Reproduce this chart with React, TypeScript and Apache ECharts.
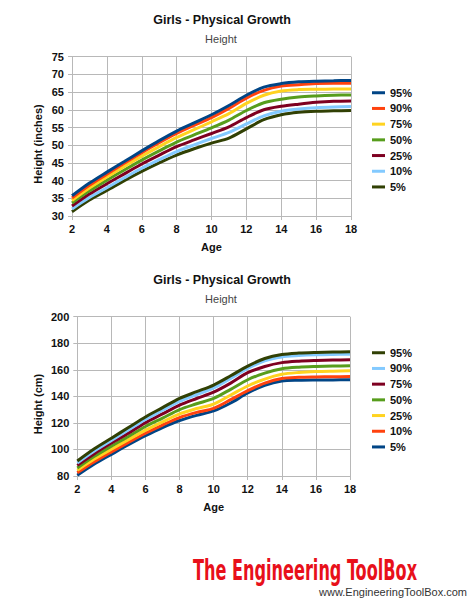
import React, { useEffect, useRef } from "react";
import * as echarts from "echarts";

const AGES = [2, 3, 4, 5, 6, 7, 8, 9, 10, 11, 12, 13, 14, 15, 16, 17, 18];
const PERCENTILES = ["95%", "90%", "75%", "50%", "25%", "10%", "5%"];

// Top chart: height in inches
const IN_95 = [35.7, 39.3, 42.4, 45.4, 48.4, 51.3, 54.0, 56.3, 58.6, 61.2, 64.1, 66.4, 67.4, 67.9, 68.1, 68.2, 68.3];
const IN_90 = [35.1, 38.7, 41.8, 44.9, 47.9, 50.7, 53.3, 55.6, 57.8, 60.4, 63.3, 65.5, 66.7, 67.1, 67.4, 67.5, 67.5];
const IN_75 = [34.4, 37.9, 41.0, 44.0, 46.9, 49.6, 52.2, 54.4, 56.6, 58.9, 61.8, 64.1, 65.3, 65.7, 65.8, 65.9, 65.9];
const IN_50 = [33.7, 37.1, 40.1, 43.0, 45.8, 48.4, 50.9, 52.9, 54.9, 57.1, 59.8, 62.0, 63.0, 63.6, 63.9, 64.1, 64.2];
const IN_25 = [32.8, 36.2, 39.1, 41.9, 44.7, 47.2, 49.6, 51.5, 53.3, 55.2, 57.8, 60.0, 61.0, 61.6, 62.1, 62.4, 62.5];
const IN_10 = [32.0, 35.2, 38.0, 40.8, 43.5, 45.9, 48.2, 50.1, 51.9, 53.6, 56.0, 58.3, 59.6, 60.2, 60.6, 60.8, 60.9];
const IN_05 = [31.2, 34.5, 37.2, 40.0, 42.6, 45.0, 47.2, 49.0, 50.6, 52.0, 54.6, 57.2, 58.6, 59.3, 59.6, 59.7, 59.8];

// Bottom chart: height in cm
const CM_95 = [91.3, 100.5, 108.5, 116.5, 124.5, 131.5, 138.5, 143.5, 148.5, 155.5, 162.8, 168.5, 171.5, 172.6, 173.1, 173.4, 173.6];
const CM_90 = [89.8, 98.8, 106.8, 114.6, 122.6, 129.5, 136.2, 141.3, 146.3, 153.5, 161.0, 166.8, 169.7, 170.7, 171.3, 171.6, 171.8];
const CM_75 = [88.0, 96.8, 104.8, 112.3, 120.2, 126.8, 133.4, 138.4, 143.2, 150.0, 157.8, 162.5, 165.4, 166.5, 167.0, 167.3, 167.5];
const CM_50 = [86.0, 94.8, 102.5, 109.8, 117.3, 123.6, 130.0, 134.4, 138.5, 145.3, 152.5, 157.5, 160.8, 162.0, 162.5, 162.8, 163.0];
const CM_25 = [84.3, 92.8, 100.2, 107.4, 114.5, 120.8, 126.8, 130.8, 134.2, 141.0, 147.8, 153.0, 156.6, 158.0, 158.7, 159.0, 159.2];
const CM_10 = [82.5, 90.8, 98.2, 105.3, 112.2, 118.4, 124.0, 127.9, 131.0, 137.5, 144.3, 150.0, 153.5, 154.3, 154.6, 154.8, 154.9];
const CM_05 = [80.5, 89.0, 96.3, 103.5, 110.3, 116.5, 121.8, 125.7, 129.0, 135.0, 142.5, 148.3, 151.5, 152.1, 152.3, 152.4, 152.5];

const TOP_SERIES = [IN_95, IN_90, IN_75, IN_50, IN_25, IN_10, IN_05];
const BOTTOM_SERIES = [CM_95, CM_90, CM_75, CM_50, CM_25, CM_10, CM_05];

const TOP_COLORS = ["#004586", "#ff420e", "#ffd320", "#579d1c", "#7e0021", "#83caff", "#314004"];
const BOTTOM_COLORS = ["#314004", "#83caff", "#7e0021", "#579d1c", "#ffd320", "#ff420e", "#004586"];

const TITLE = "Girls - Physical Growth";
const SUBTITLE = "Height";
const X_NAME = "Age";
const TOP_Y_NAME = "Height (inches)";
const BOTTOM_Y_NAME = "Height (cm)";
const LOGO = "The Engineering ToolBox";
const URL = "www.EngineeringToolBox.com";

const FONT = "'Liberation Sans', Arial, sans-serif";
const GRID_COLOR = "#b8b8b8";

function buildOption(
  series: number[][],
  colors: string[],
  yName: string,
  yMin: number,
  yMax: number,
  yInterval: number,
  grid: { left: number; right: number; top: number; bottom: number },
  extraGraphic: any[]
) {
  return {
    animation: false,
    textStyle: { fontFamily: FONT },
    grid: { ...grid, containLabel: false },
    legend: {
      orient: "vertical",
      left: 367,
      top: 81,
      itemWidth: 13,
      itemHeight: 3,
      itemGap: 2.2,
      icon: "rect",
      data: PERCENTILES,
      textStyle: { fontSize: 11, fontWeight: "bold", color: "#111", fontFamily: FONT, lineHeight: 13.5 },
    },
    xAxis: {
      type: "value",
      min: 2,
      max: 18,
      interval: 2,
      name: X_NAME,
      nameLocation: "middle",
      nameGap: 25,
      nameTextStyle: { fontSize: 11, fontWeight: "bold", color: "#111", fontFamily: FONT },
      axisLine: { show: true, lineStyle: { color: GRID_COLOR } },
      axisTick: { show: true, length: 4, lineStyle: { color: GRID_COLOR } },
      axisLabel: { fontSize: 11, fontWeight: "bold", color: "#111", margin: 7, fontFamily: FONT },
      splitLine: { show: true, lineStyle: { color: GRID_COLOR, width: 1 } },
    },
    yAxis: {
      type: "value",
      min: yMin,
      max: yMax,
      interval: yInterval,
      axisLine: { show: true, lineStyle: { color: GRID_COLOR } },
      axisTick: { show: true, length: 4, lineStyle: { color: GRID_COLOR } },
      axisLabel: { fontSize: 11, fontWeight: "bold", color: "#111", margin: 8, fontFamily: FONT },
      splitLine: { show: true, lineStyle: { color: GRID_COLOR, width: 1 } },
    },
    graphic: [
      {
        type: "text",
        x: 222,
        y: 20,
        style: {
          text: TITLE,
          align: "center",
          verticalAlign: "middle",
          fontSize: 12.5,
          fontWeight: "bold",
          fontFamily: FONT,
          fill: "#111",
        },
      },
      {
        type: "text",
        x: 221,
        y: 39,
        style: {
          text: SUBTITLE,
          align: "center",
          verticalAlign: "middle",
          fontSize: 11,
          fontFamily: FONT,
          fill: "#444",
        },
      },
      {
        type: "text",
        x: 38,
        y: 144,
        rotation: Math.PI / 2,
        style: {
          text: yName,
          align: "center",
          verticalAlign: "middle",
          fontSize: 11,
          fontWeight: "bold",
          fontFamily: FONT,
          fill: "#111",
        },
      },
      ...extraGraphic,
    ],
    series: series.map((vals, i) => ({
      name: PERCENTILES[i],
      type: "line",
      smooth: 0.3,
      symbol: "none",
      color: colors[i],
      lineStyle: { width: 3, color: colors[i] },
      z: 2 + (series.length - i),
      data: AGES.map((a, j) => [a, vals[j]]),
    })),
  };
}

function measure(text: string, font: string): number {
  try {
    const c = document.createElement("canvas");
    const ctx = c.getContext("2d");
    if (!ctx) return 0;
    ctx.font = font;
    return ctx.measureText(text).width;
  } catch (e) {
    return 0;
  }
}

export default function App() {
  const topRef = useRef<HTMLDivElement>(null);
  const bottomRef = useRef<HTMLDivElement>(null);

  useEffect(() => {
    if (!topRef.current || !bottomRef.current) return;
    const top = echarts.init(topRef.current, undefined, { renderer: "svg" });
    const bottom = echarts.init(bottomRef.current, undefined, { renderer: "svg" });

    top.setOption(
      buildOption(TOP_SERIES, TOP_COLORS, TOP_Y_NAME, 30, 75, 5, { left: 72, right: 123, top: 56.7, bottom: 44 }, [])
    );

    const logoSize = 28;
    const logoFamily = "'DejaVu Sans Condensed', 'DejaVu Sans', sans-serif";
    const w = measure(LOGO, `bold ${logoSize}px ${logoFamily}`);
    const targetW = 224;
    const sx = w > 0 ? targetW / w : 0.8;

    bottom.setOption(
      buildOption(
        BOTTOM_SERIES,
        BOTTOM_COLORS,
        BOTTOM_Y_NAME,
        80,
        200,
        20,
        { left: 77.3, right: 124, top: 56.7, bottom: 126 },
        [
          {
            type: "text",
            x: 193,
            y: 310,
            scaleX: sx,
            style: {
              text: LOGO,
              align: "left",
              verticalAlign: "middle",
              fontSize: logoSize,
              fontWeight: "bold",
              fontFamily: logoFamily,
              fill: "#e8101a",
            },
          },
          {
            type: "text",
            x: 467,
            y: 332,
            style: {
              text: URL,
              align: "right",
              verticalAlign: "middle",
              fontSize: 11,
              fontFamily: FONT,
              fill: "#333",
            },
          },
        ]
      )
    );

    return () => {
      top.dispose();
      bottom.dispose();
    };
  }, []);

  return (
    <div style={{ position: "absolute", left: 0, top: 0, width: 474, height: 602, background: "#fff" }}>
      <div ref={topRef} style={{ position: "absolute", left: 0, top: 0, width: 474, height: 260 }} />
      <div ref={bottomRef} style={{ position: "absolute", left: 0, top: 260, width: 474, height: 342 }} />
    </div>
  );
}
